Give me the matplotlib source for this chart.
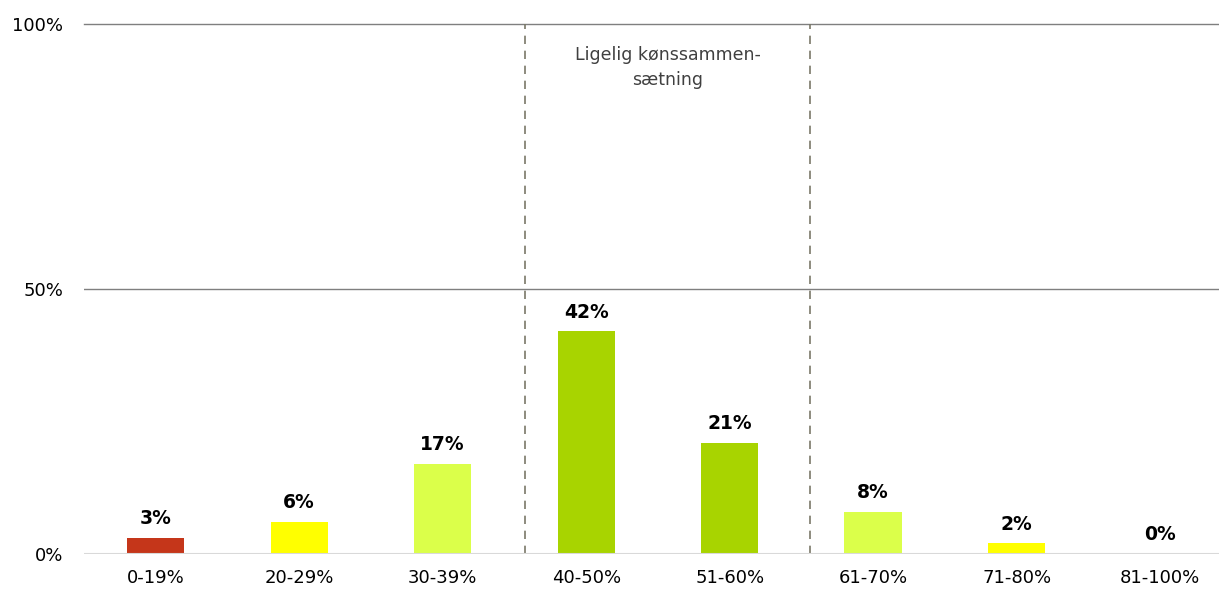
import matplotlib.pyplot as plt

plt.rcParams["font.family"] = ["DejaVu Sans"]

# Data
categories = ["0-19%", "20-29%", "30-39%", "40-50%", "51-60%", "61-70%", "71-80%", "81-100%"]
values = [3, 6, 17, 42, 21, 8, 2, 0]
colors = ["#C5361A", "#FFFF00", "#DBFF4A", "#A8D400", "#A8D400", "#DBFF4A", "#FFFF00", "#FFFF00"]
yticks = [0, 50, 100]
ytick_labels = ["0%", "50%", "100%"]
band_label = "Ligelig kønssammen-\nsætning"

fig = plt.figure(figsize=(12.19, 5.89), dpi=100)
ax = fig.add_axes([0.0689, 0.0594, 0.9311, 0.8999])

x = range(len(categories))
ax.bar(x, values, width=0.40, color=colors, zorder=3)

for i, v in enumerate(values):
    ax.annotate(f"{v}%", (i, v), xytext=(0, 7), textcoords="offset points",
                ha="center", va="bottom", fontsize=13.5, fontweight="bold", color="black")

# gridlines
ax.axhline(50, color="#7f7f7f", lw=1, zorder=1)
ax.axhline(100, color="#7f7f7f", lw=1, zorder=1, clip_on=False)
ax.axhline(0, color="#d9d9d9", lw=1.5, zorder=4)

# band for equal gender composition
for xv in [2.57, 4.56]:
    ax.axvline(xv, color="#7a7868", lw=1.2, ls=(0, (5, 4)), zorder=2)
ax.text(3.57, 95.8, band_label, ha="center", va="top", fontsize=12.5,
        color="#404040", linespacing=1.45)

ax.set_xlim(-0.5, 7.41)
ax.set_ylim(0, 100)
ax.set_xticks(list(x))
ax.set_xticklabels(categories, fontsize=13)
ax.set_yticks(yticks)
ax.set_yticklabels(ytick_labels, fontsize=13)
ax.tick_params(axis="x", length=0, pad=11)
ax.tick_params(axis="y", length=0, pad=15)
for s in ax.spines.values():
    s.set_visible(False)

fig.savefig("out.png", dpi=100)
